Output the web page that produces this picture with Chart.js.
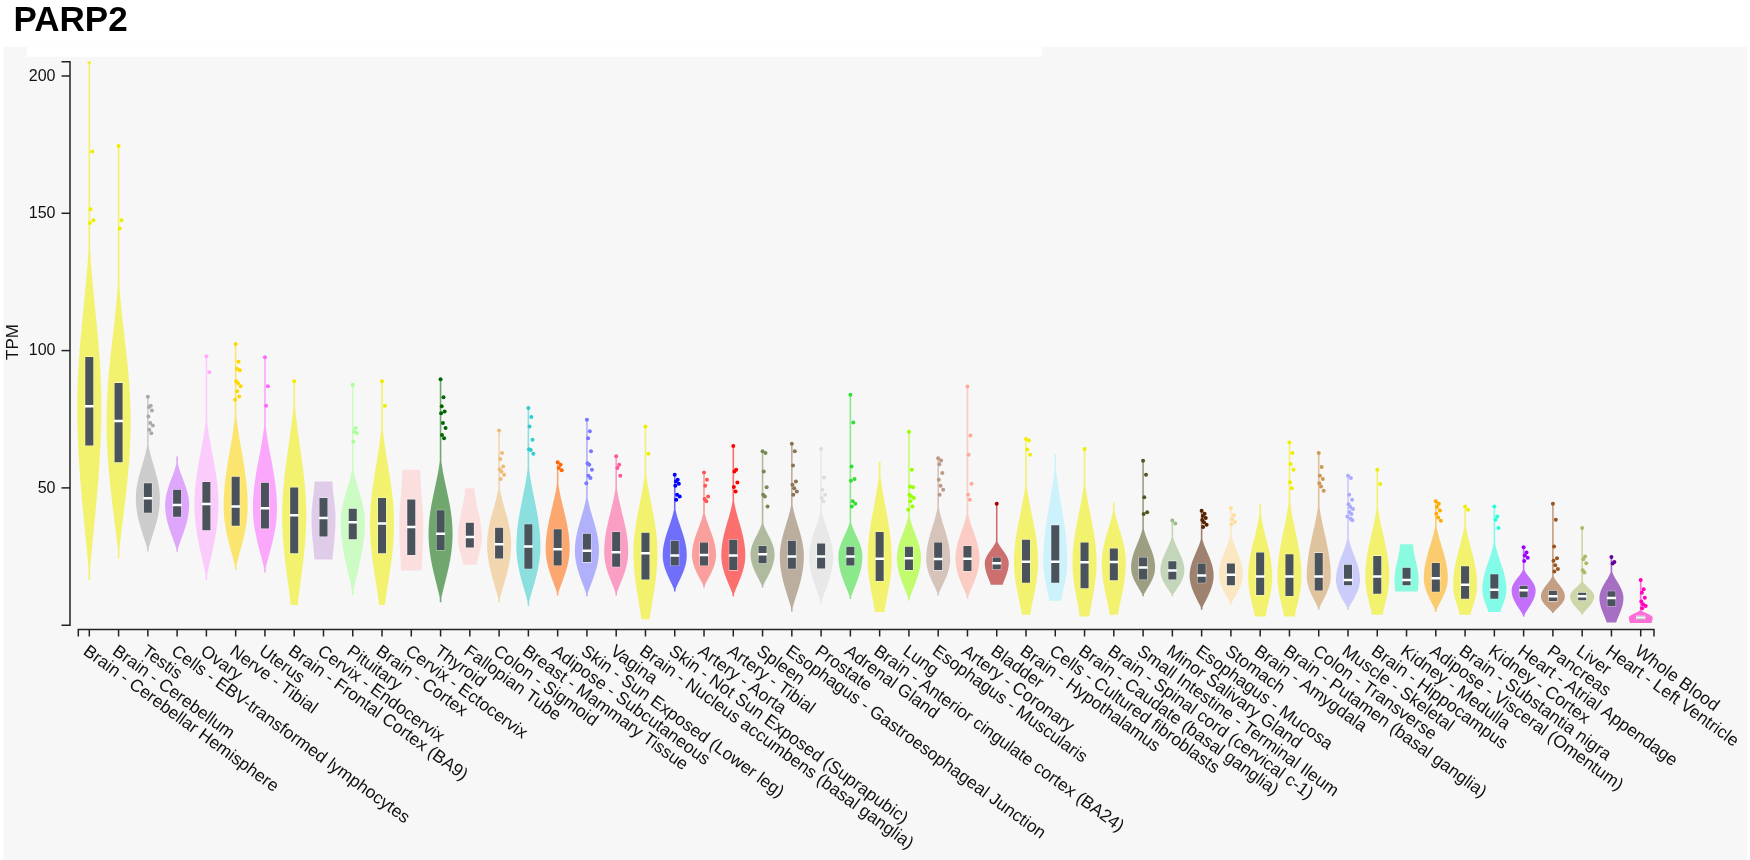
<!DOCTYPE html>
<html>
<head>
<meta charset="utf-8">
<script src="https://cdn.jsdelivr.net/npm/chart.js@4.4.1/dist/chart.umd.min.js"></script>
<style>
html,body{margin:0;padding:0;background:#fff;}
#wrap{width:1750px;height:860px;position:relative;}
canvas{display:block;}
</style>
</head>
<body>
<div id="wrap"><canvas id="c" width="1750" height="860" style="width:1750px;height:860px"></canvas></div>
<script>
// ---------------- data ----------------
const title = "PARP2";
const yTitle = "TPM";
const yTicks = [50, 100, 150, 200];
const tissues = [
  "Brain - Cerebellar Hemisphere","Brain - Cerebellum","Testis","Cells - EBV-transformed lymphocytes","Ovary",
  "Nerve - Tibial","Uterus","Brain - Frontal Cortex (BA9)","Cervix - Endocervix","Pituitary",
  "Brain - Cortex","Cervix - Ectocervix","Thyroid","Fallopian Tube","Colon - Sigmoid",
  "Breast - Mammary Tissue","Adipose - Subcutaneous","Skin - Sun Exposed (Lower leg)","Vagina","Brain - Nucleus accumbens (basal ganglia)",
  "Skin - Not Sun Exposed (Suprapubic)","Artery - Aorta","Artery - Tibial","Spleen","Esophagus - Gastroesophageal Junction",
  "Prostate","Adrenal Gland","Brain - Anterior cingulate cortex (BA24)","Lung","Esophagus - Muscularis",
  "Artery - Coronary","Bladder","Brain - Hypothalamus","Cells - Cultured fibroblasts","Brain - Caudate (basal ganglia)",
  "Brain - Spinal cord (cervical c-1)","Small Intestine - Terminal Ileum","Minor Salivary Gland","Esophagus - Mucosa","Stomach",
  "Brain - Amygdala","Brain - Putamen (basal ganglia)","Colon - Transverse","Muscle - Skeletal","Brain - Hippocampus",
  "Kidney - Medulla","Adipose - Visceral (Omentum)","Brain - Substantia nigra","Kidney - Cortex","Heart - Atrial Appendage",
  "Pancreas","Liver","Heart - Left Ventricle","Whole Blood"
];
const tissueColors = [
  "#EEEE00","#EEEE00","#AAAAAA","#CC66FF","#FFAAFF",
  "#FFD700","#FF66FF","#EEEE00","#CCAADD","#AAFF99",
  "#EEEE00","#FFCCCC","#006600","#FFCCCC","#EEBB77",
  "#33CCCC","#FF6600","#7777FF","#FF5599","#EEEE00",
  "#0000FF","#FF5555","#FF0000","#778855","#8B7355",
  "#DDDDDD","#33DD33","#EEEE00","#99FF00","#BB9988",
  "#FFAA99","#AA0000","#EEEE00","#AAEEFF","#EEEE00",
  "#EEEE00","#555522","#99BB88","#552200","#FFDD99",
  "#EEEE00","#EEEE00","#CC9955","#AAAAFF","#EEEE00",
  "#33FFCC","#FFAA00","#EEEE00","#22FFDD","#9900FF",
  "#995522","#AABB66","#660099","#FF00BB"
];
const minV = [16.5,24.4,26.8,26.8,16.5, 20.2,19.2,7.4,23.9,11.0, 7.4,19.9,8.4,22.0,8.4, 7.1,10.8,10.5,10.8,2.2,
  12.3,13.7,10.5,13.7,5.0, 7.8,9.5,4.8,9.0,10.8, 9.6,14.7,3.8,8.9,3.2, 3.8,10.5,10.5,5.6,7.4,
  3.2,3.2,5.6,5.6,3.8, 12.3,4.8,3.8,4.8,3.2, 4.4,3.8,1.0,0.8];
const q1V = [65.3,59.2,40.8,39.3,34.4, 36.0,35.0,26.0,32.1,31.1, 26.0,25.4,27.2,28.1,24.1, 20.4,21.6,22.8,21.1,16.5,
  21.6,21.6,19.9,22.4,20.4, 20.5,21.6,15.9,19.9,19.9, 19.6,20.2,15.3,15.3,13.3, 16.2,16.5,16.5,15.3,14.4,
  10.8,10.5,12.5,14.4,11.3, 14.4,12.0,9.5,9.5,9.9, 8.6,8.9,6.8,2.0];
const medV = [79.7,74.4,46.2,43.8,44.1, 43.2,42.6,40.0,39.0,37.5, 37.0,35.8,33.3,32.1,29.5, 28.7,27.7,27.1,26.6,26.2,
  25.4,25.6,25.4,25.8,25.0, 25.0,25.0,24.2,24.4,24.1, 24.2,22.6,23.1,23.1,22.9, 23.0,21.0,19.9,18.1,18.4,
  17.7,17.7,17.7,16.5,17.7, 16.5,17.1,14.7,12.9,12.7, 10.5,10.5,9.9,2.8];
const q3V = [97.8,88.4,51.9,49.5,52.3, 54.2,52.0,50.3,46.5,42.6, 46.5,45.9,42.0,37.5,35.7, 36.9,35.1,33.5,34.1,33.8,
  30.9,30.3,31.3,29.0,30.9, 29.9,28.7,34.1,28.7,30.3, 29.0,24.8,31.3,36.6,30.3, 28.1,24.8,23.5,22.6,22.6,
  26.6,26.0,26.5,22.2,25.4, 21.1,22.8,21.6,18.7,14.5, 12.7,12.0,12.5,3.5];
const maxV = [205.2,174.5,83.2,61.4,97.9, 102.4,97.6,88.8,52.3,87.6, 88.8,56.6,89.6,49.9,70.9, 79.1,59.3,74.8,61.5,72.4,
  54.8,55.6,65.3,63.3,66.1, 64.2,83.9,59.6,70.4,60.8, 86.9,44.2,67.8,62.4,64.2, 44.8,59.9,38.1,41.7,42.6,
  44.1,66.5,62.7,54.4,56.6, 29.5,45.1,43.2,43.2,28.4, 44.2,35.4,24.8,16.5];
const outlierValues = [
  [205.2,172.5,151.5,147.5,146.5],
  [174.5,147.5,144.5],
  [83.2,79.9,79.5,78.2,76.0,73.6,72.7,71.2,69.9],
  [],
  [97.9,92.1],
  [102.4,95.9,93.4,92.8,88.8,88.1,87.0,85.2,83.3,82.1],
  [97.6,87.0,79.9],
  [88.8],
  [],
  [87.6,71.8,70.4,70.0,66.8],
  [88.8,79.9],
  [],
  [89.6,83.0,79.7,77.8,77.2,73.6,71.8,69.3,68.1],
  [],
  [70.9,62.7,60.5,57.8,56.8,56.0,54.8,53.2],
  [79.1,75.8,72.4,67.5,64.1,63.8,62.4],
  [59.3,58.4,57.2,56.4],
  [74.8,70.6,68.1,63.3,59.0,58.4,56.6,54.4,53.6,51.7],
  [61.5,58.4,57.2,54.4],
  [72.4,62.4],
  [54.8,53.0,52.3,51.5,50.8,47.5,46.9,45.7],
  [55.6,53.0,50.8,46.9,46.0,45.1],
  [65.3,56.6,56.0,52.0,50.3,48.7],
  [63.3,62.7,56.0,50.2,47.5,46.9,43.2],
  [66.1,63.3,58.2,52.3,51.1,49.9,48.7,47.5],
  [64.2,53.8,49.3,47.5,46.3,45.1],
  [83.9,73.8,57.8,53.2,52.6,45.1,44.2,43.2],
  [],
  [70.4,56.6,50.5,50.2,47.5,46.9,46.3,45.1,43.2,42.0],
  [60.8,60.0,58.6,55.4,53.0,50.8,49.3,47.5],
  [86.9,69.1,62.1,51.5,47.5,45.7],
  [44.2],
  [67.8,67.3,64.0,62.1],
  [],
  [64.2],
  [],
  [59.9,54.8,46.6,41.1,40.5],
  [38.1,37.0],
  [41.7,40.6,39.8,39.0,38.3,37.5,36.6,35.8],
  [42.6,40.0,38.6,37.6,36.8],
  [],
  [66.5,62.7,58.7,56.6,52.1,49.9],
  [62.7,57.6,54.4,53.2,51.7,50.5,49.0],
  [54.4,53.6,47.5,45.7,44.0,43.0,42.3,41.2,40.5,39.6,38.8,38.2],
  [56.6,51.4],
  [],
  [45.1,44.2,43.0,41.8,40.6,39.2,38.0],
  [43.2,42.0],
  [43.2,39.6,38.4,35.4],
  [28.4,26.5,25.4,24.6,23.4],
  [44.2,38.4,28.7,24.4,23.5,21.8,20.5,19.6],
  [35.4,25.0,24.0,22.6,20.0,19.2],
  [24.8,23.0,22.5],
  [16.5,13.1,11.8,10.0,8.6,7.6,7.0,6.2]
];
// relative width of the violin at its lowest / highest value (0 = pointed end)
const bottomEndWidth = [0,0,0,0,0, 0,0,0.3,0.75,0, 0.25,0.85,0,0.55,0, 0,0,0,0,0.35,
  0,0,0,0,0, 0,0,0.4,0,0, 0,0.5,0.35,0.5,0.4, 0.35,0,0,0,0,
  0.45,0.45,0,0,0.45, 0.95,0,0.45,0.5,0, 0,0,0.4,0.9];
const topEndWidth = [0,0,0,0,0, 0,0,0,0.75,0, 0,0.75,0,0.4,0, 0,0,0,0,0,
  0,0,0,0,0, 0,0,0,0,0, 0,0,0,0,0, 0,0,0,0,0,
  0,0,0,0,0, 0.55,0,0,0,0, 0,0,0,0];

// ---------------- style ----------------
const FONT = "'Liberation Sans', Arial, Helvetica, sans-serif";
const JITTER = [0.0,0.1,0.04,0.14,0.02,0.08,0.17,0.05,0.12,-0.02,0.09,0.15];
const HALF_W = 12;

function hexA(hex, a){
  const n = parseInt(hex.slice(1),16);
  return `rgba(${(n>>16)&255},${(n>>8)&255},${n&255},${a})`;
}

const boxData = tissues.map((t,i)=>({x:i, y:[q1V[i], q3V[i]]}));
const medData = tissues.map((t,i)=>({x:i, y:medV[i]}));
const outData = [], outColors = [];
outlierValues.forEach((arr,i)=>arr.forEach((v,k)=>{
  outData.push({x: i + JITTER[k % JITTER.length], y: v});
  outColors.push(tissueColors[i]);
}));

function halfWidth(i, v){
  const mn=minV[i], q1=q1V[i], md=medV[i], q3=q3V[i], mx=maxV[i];
  const bodyTop = Math.min(mx, q3 + 1.5*(q3-q1));
  let f;
  if (v <= md){
    const t = Math.max(0, Math.min(1, (v-mn)/(md-mn)));
    const lw = bottomEndWidth[i];
    f = lw + (1-lw)*Math.pow(Math.sin(Math.PI/2*t), 1.2);
  } else if (v <= bodyTop){
    const t = Math.max(0, Math.min(1, (v-md)/(bodyTop-md)));
    const uw = bodyTop >= mx ? topEndWidth[i] : 0;
    f = uw + (1-uw)*Math.pow(Math.cos(Math.PI/2*t), 1.8);
  } else f = 0;
  return Math.max(HALF_W*f, 0.8);
}

const violinPlugin = {
  id:'violins',
  beforeDraw(chart){
    const ctx = chart.ctx;
    ctx.save();
    ctx.fillStyle = '#ffffff'; ctx.fillRect(0,0,1750,860);
    ctx.fillStyle = '#f7f7f7'; ctx.fillRect(3.3,46.7,1743.7,813.3);
    ctx.fillStyle = '#ffffff'; ctx.fillRect(26.7,46.7,1015.3,10);
    ctx.fillStyle = '#000';
    ctx.font = "bold 35px " + FONT;
    ctx.textBaseline = 'alphabetic'; ctx.textAlign='left';
    ctx.fillText(title, 13.5, 30.5);
    ctx.restore();
  },
  beforeDatasetsDraw(chart){
    const ctx = chart.ctx, xs = chart.scales.x, ys = chart.scales.y;
    ctx.save();
    tissues.forEach((t,i)=>{
      const cx = xs.getPixelForValue(i);
      const mn=minV[i], mx=maxV[i];
      const n = Math.max(30, Math.ceil(ys.getPixelForValue(mn) - ys.getPixelForValue(mx)));
      const pts = [];
      for(let k=0;k<=n;k++){ const v = mn + (mx-mn)*k/n; pts.push([ys.getPixelForValue(v), halfWidth(i,v)]); }
      ctx.beginPath();
      pts.forEach(([y,w],k)=>{ if(k) ctx.lineTo(cx+w,y); else ctx.moveTo(cx+w,y); });
      for(let k=pts.length-1;k>=0;k--){ ctx.lineTo(cx-pts[k][1], pts[k][0]); }
      ctx.closePath();
      ctx.fillStyle = hexA(tissueColors[i], 0.55);
      ctx.fill();
    });
    ctx.restore();
  },
  afterDraw(chart){
    const ctx = chart.ctx, xs = chart.scales.x, ys = chart.scales.y;
    ctx.save();
    ctx.strokeStyle = '#222'; ctx.fillStyle = '#111'; ctx.lineWidth = 1.5;
    // y axis
    const ax = 70, yTop = ys.getPixelForValue(ys.max), yBot = ys.getPixelForValue(0);
    ctx.beginPath();
    ctx.moveTo(ax-8.5, yTop); ctx.lineTo(ax, yTop); ctx.lineTo(ax, yBot); ctx.lineTo(ax-8.5, yBot);
    ctx.stroke();
    ctx.font = "16px " + FONT; ctx.textAlign='right'; ctx.textBaseline='middle';
    yTicks.forEach(v=>{
      const y = ys.getPixelForValue(v);
      ctx.beginPath(); ctx.moveTo(ax-8.5,y); ctx.lineTo(ax,y); ctx.stroke();
      ctx.fillText(String(v), ax-14.5, y+0.5);
    });
    ctx.save();
    ctx.translate(13.5, 342); ctx.rotate(-Math.PI/2);
    ctx.font = "17px " + FONT; ctx.textAlign='center'; ctx.textBaseline='middle';
    ctx.fillText(yTitle, 0, 0);
    ctx.restore();
    // x axis
    const xl = chart.chartArea.left, xr = chart.chartArea.right, yx = 629.5;
    ctx.beginPath();
    ctx.moveTo(xl, yx+7); ctx.lineTo(xl, yx); ctx.lineTo(xr, yx); ctx.lineTo(xr, yx+7);
    ctx.stroke();
    ctx.font = "17.5px " + FONT; ctx.textAlign='left'; ctx.textBaseline='top';
    const ang = 36*Math.PI/180;
    tissues.forEach((t,i)=>{
      const x = xs.getPixelForValue(i);
      ctx.beginPath(); ctx.moveTo(x,yx); ctx.lineTo(x,yx+7); ctx.stroke();
      ctx.save();
      ctx.translate(x+1, yx+13);
      ctx.rotate(ang);
      ctx.fillText(t, 0, 0);
      ctx.restore();
    });
    ctx.restore();
  }
};

Chart.defaults.font.family = FONT;
new Chart(document.getElementById('c'), {
  type: 'bar',
  data: {
    datasets: [
      {type:'bar', data: boxData, backgroundColor:'#4a535c', borderColor:'rgba(255,255,255,0.5)', borderWidth:0.8,
        borderSkipped:false, barThickness:9, grouped:false, order:3},
      {type:'scatter', data: medData, pointStyle:'line', pointRadius:4.5, borderColor:'#ffffff', borderWidth:2.5, order:2},
      {type:'scatter', data: outData, pointRadius:2, pointBackgroundColor: outColors, pointBorderWidth:0, order:1}
    ]
  },
  options: {
    responsive:false, animation:false, devicePixelRatio:1, events:[],
    layout:{padding:{left:78.3, right:96, top:61.7, bottom:234.8}},
    scales:{
      x:{type:'linear', min:-0.376, max:53.454, offset:false, display:false},
      y:{type:'linear', min:0, max:205.2, display:false}
    },
    plugins:{legend:{display:false}, tooltip:{enabled:false}}
  },
  plugins:[violinPlugin]
});
</script>
</body>
</html>
